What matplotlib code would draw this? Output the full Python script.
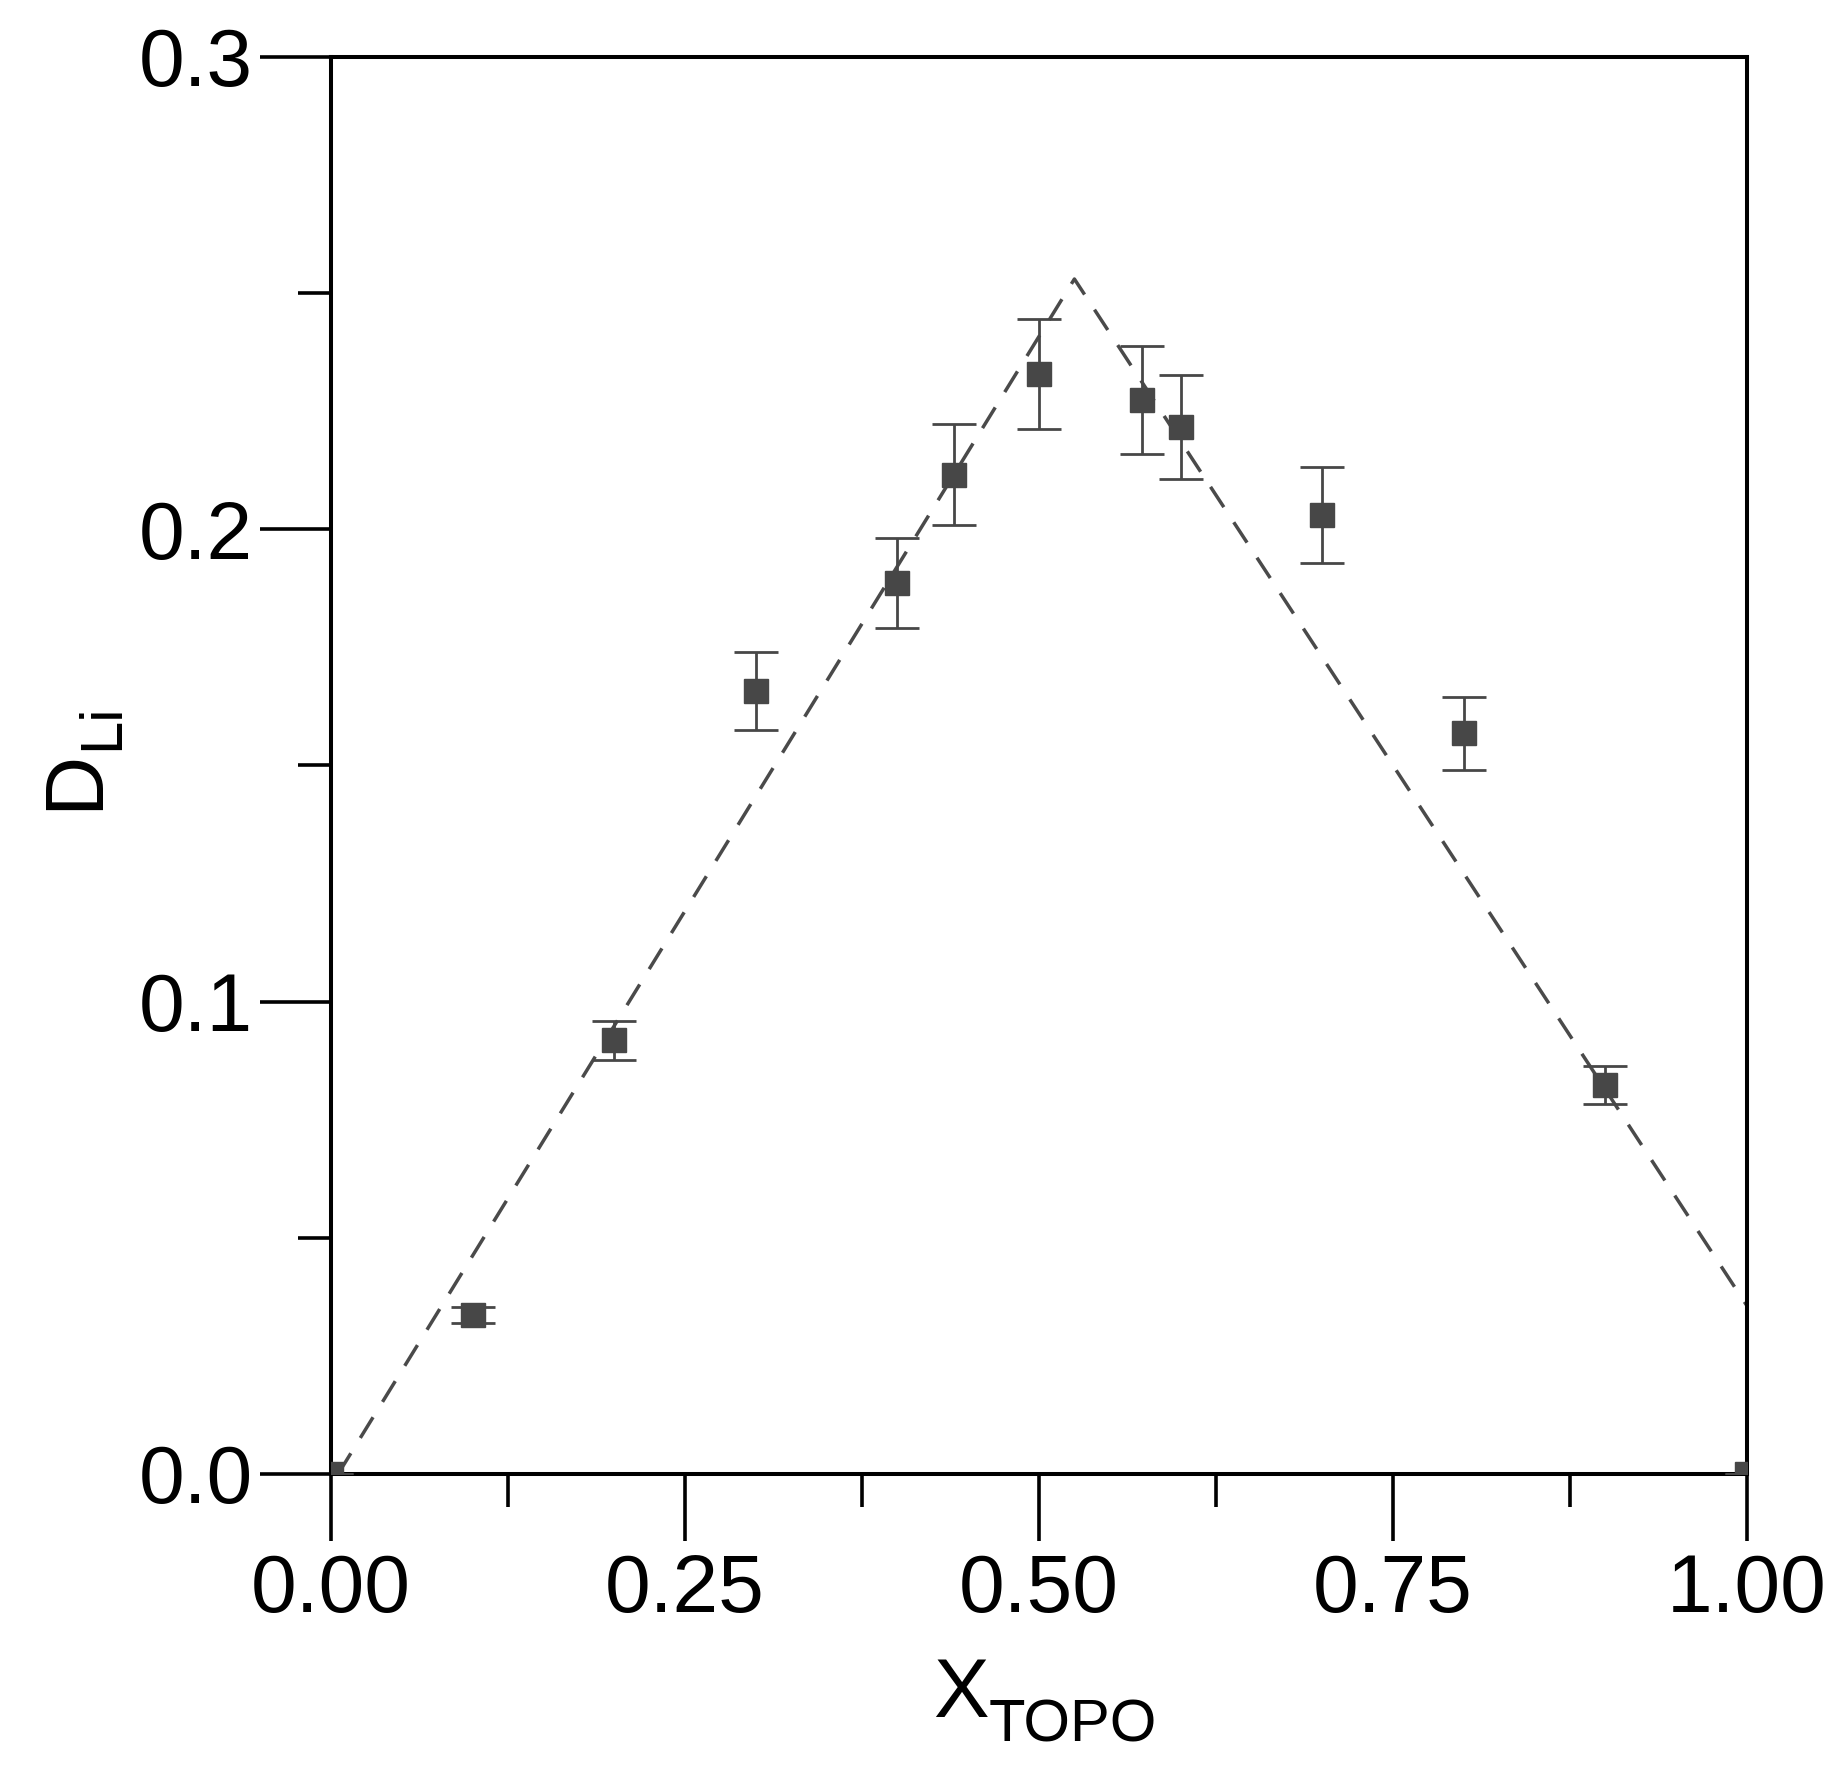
import matplotlib
matplotlib.use('Agg')
import matplotlib.pyplot as plt
from matplotlib.ticker import MultipleLocator

plt.rcParams['font.family'] = ['Liberation Sans', 'DejaVu Sans']

# measured points
x_topo = [0.0, 0.1, 0.2, 0.3, 0.4, 0.44, 0.5, 0.573, 0.6, 0.7, 0.8, 0.9, 1.0]
d_li = [0.0, 0.0336, 0.0918, 0.1658, 0.1886, 0.2116, 0.2329, 0.2274, 0.2216, 0.2030, 0.1568, 0.0824, 0.0]
d_err = [0.0, 0.0017, 0.0041, 0.0083, 0.0095, 0.0107, 0.0117, 0.0115, 0.0110, 0.0101, 0.0078, 0.0040, 0.0]

# dashed guide line
line_x = [0.005, 0.525, 1.0]
line_y = [0.0, 0.253, 0.0356]

W, H = 1848, 1768
fig = plt.figure(figsize=(W / 100, H / 100), dpi=100)
ax = fig.add_axes([331 / W, 1 - 1474 / H, 1416 / W, 1417 / H])

ax.plot(line_x, line_y, color='#4a4a4a', lw=2.5, dashes=(7.0, 5.2), zorder=2)
ax.errorbar(x_topo, d_li, yerr=d_err, fmt='s', color='#474747', ms=17.3,
            mec='#474747', elinewidth=2.0, capsize=15.5, capthick=2.0, zorder=3)

ax.set_xlim(0, 1)
ax.set_ylim(0, 0.3)
ax.xaxis.set_major_locator(MultipleLocator(0.25))
ax.xaxis.set_minor_locator(MultipleLocator(0.125))
ax.yaxis.set_major_locator(MultipleLocator(0.1))
ax.yaxis.set_minor_locator(MultipleLocator(0.05))
ax.xaxis.set_major_formatter(plt.FuncFormatter(lambda v, p: f'{v:.2f}'))
ax.yaxis.set_major_formatter(plt.FuncFormatter(lambda v, p: f'{v:.1f}'))

for s in ax.spines.values():
    s.set_linewidth(2.9)
ax.tick_params(which='major', axis='y', length=51, width=2.6, pad=5, labelsize=59)
ax.tick_params(which='major', axis='x', length=48, width=2.6, pad=9, labelsize=59)
ax.tick_params(which='minor', length=24, width=2.6)

# axis labels with lowered subscripts, placed in figure pixels
big, small = 60, 43
fig.text(933 / W, 1 - 1717 / H, 'X', fontsize=big, ha='left', va='baseline')
fig.text(989 / W, 1 - 1742 / H, 'TOPO', fontsize=small, ha='left', va='baseline')
fig.text(97 / W, 1 - 810 / H, 'D', fontsize=big, ha='left', va='baseline',
         rotation=90, rotation_mode='anchor')
fig.text(118 / W, 1 - 750 / H, 'Li', fontsize=small, ha='left', va='baseline',
         rotation=90, rotation_mode='anchor')

fig.savefig('out.png', dpi=100)
